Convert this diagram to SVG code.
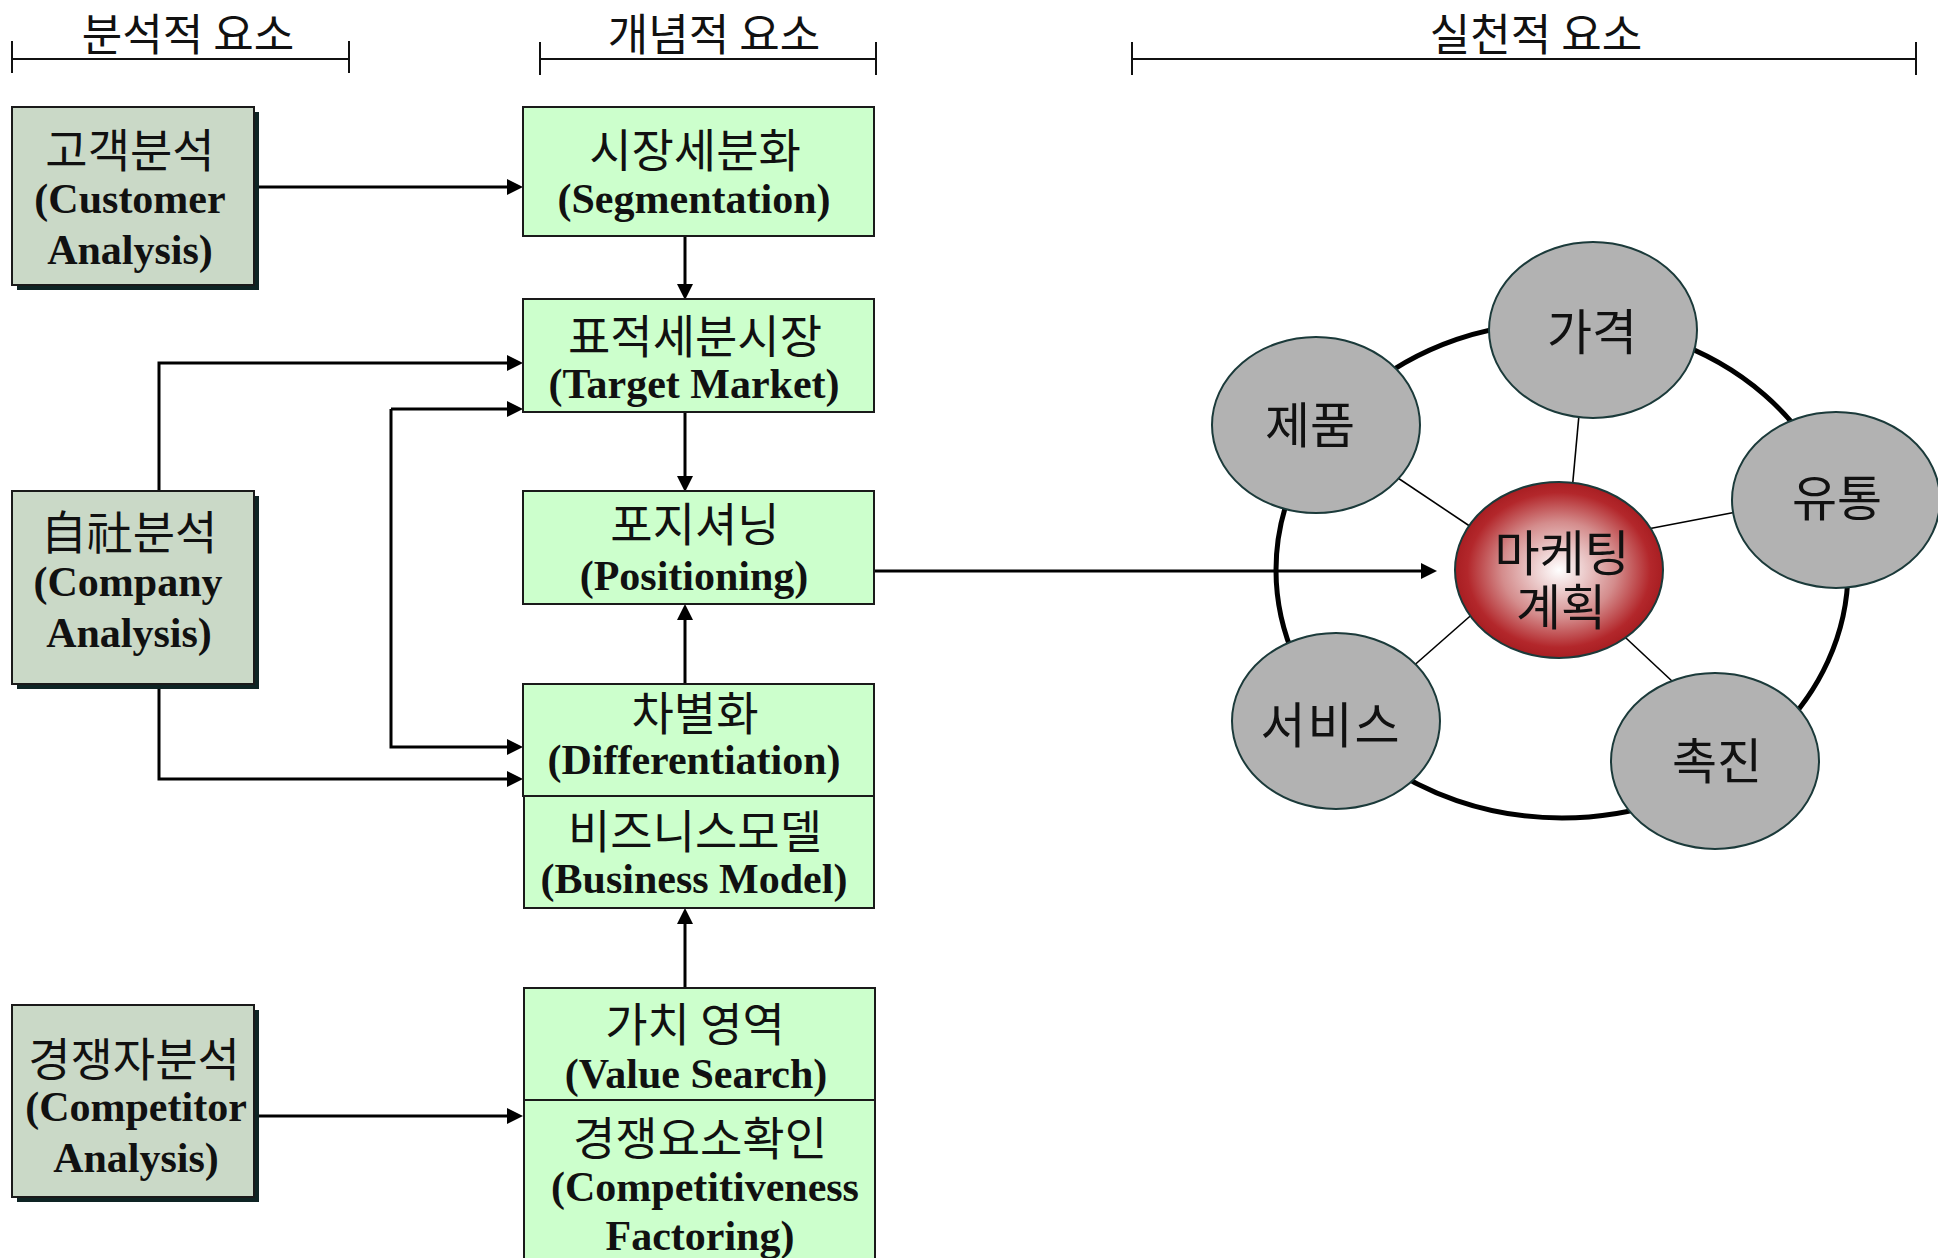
<svg xmlns="http://www.w3.org/2000/svg" width="1938" height="1258" viewBox="0 0 1938 1258">
  <style>
    .ko { font-family: "Noto Sans CJK KR", "Noto Sans", sans-serif; font-size: 46px; fill: #111; font-weight: 400; }
    .en { font-family: "Liberation Serif", "Times New Roman", serif; font-size: 42px; font-weight: bold; fill: #111; }
    .lbl { text-anchor: middle; }
    .hd { font-family: "Noto Sans CJK KR", "Noto Sans", sans-serif; font-size: 44px; fill: #111; text-anchor: middle; }
    .cir { font-family: "Noto Sans CJK KR", "Noto Sans", sans-serif; font-size: 49px; fill: #111; text-anchor: middle; font-weight: 400; }
    .hdr line { stroke: #111; stroke-width: 2; }
    .abox { fill: #CAD9C7; stroke: #1a1a1a; stroke-width: 2; }
    .shadow { fill: #0E2424; }
    .cbox { fill: #CCFFCC; stroke: #1a1a1a; stroke-width: 2; }
    .conn { fill: none; stroke: #000; stroke-width: 3; marker-end: url(#arrow); }
    .ring { fill: none; stroke: #000; stroke-width: 5; }
    .spoke { stroke: #000; stroke-width: 1.6; }
    .mix { fill: #B2B2B2; stroke: #1B3A3A; stroke-width: 2; }
    .plan { fill: url(#planGrad); stroke: #1B3A3A; stroke-width: 2; }
  </style>
  <defs>
    <marker id="arrow" viewBox="0 0 16 16" refX="0" refY="8" markerWidth="16" markerHeight="16" markerUnits="userSpaceOnUse" orient="auto">
      <path d="M0,0 L16,8 L0,16 z" fill="#000"/>
    </marker>
    <radialGradient id="planGrad" cx="50%" cy="50%" r="50%">
      <stop offset="0" stop-color="#FFFFFF"/>
      <stop offset="0.55" stop-color="#D48C8C"/>
      <stop offset="0.88" stop-color="#B3272B"/>
      <stop offset="1" stop-color="#A81E22"/>
    </radialGradient>
  </defs>

  <rect width="1938" height="1258" fill="#fff"/>

  <!-- column headers -->
  <g id="hdr-analysis" class="hdr">
    <line x1="12" y1="59" x2="349" y2="59"/>
    <line x1="12" y1="41" x2="12" y2="73"/>
    <line x1="349" y1="41" x2="349" y2="73"/>
    <text class="hd" x="188" y="51">분석적 요소</text>
  </g>
  <g id="hdr-concept" class="hdr">
    <line x1="540" y1="59" x2="876" y2="59"/>
    <line x1="540" y1="42" x2="540" y2="75"/>
    <line x1="876" y1="42" x2="876" y2="75"/>
    <text class="hd" x="714" y="51">개념적 요소</text>
  </g>
  <g id="hdr-practice" class="hdr">
    <line x1="1132" y1="59" x2="1916" y2="59"/>
    <line x1="1132" y1="42" x2="1132" y2="75"/>
    <line x1="1916" y1="42" x2="1916" y2="75"/>
    <text class="hd" x="1536" y="51">실천적 요소</text>
  </g>

  <!-- connectors -->
  <g id="connectors">
    <path class="conn" d="M254,187 H507"/>
    <path class="conn" d="M685,236 V284"/>
    <path class="conn" d="M159,491 V363 H507"/>
    <path class="conn" d="M391,409 H507"/>
    <path class="conn" d="M391,409 V747 H507"/>
    <path class="conn" d="M159,684 V779 H507"/>
    <path class="conn" d="M685,412 V476"/>
    <path class="conn" d="M685,684 V620"/>
    <path class="conn" d="M685,988 V924"/>
    <path class="conn" d="M254,1116 H507"/>
    <path class="conn" d="M874,571 H1421"/>
  </g>

  <!-- analysis boxes -->
  <g id="customer">
    <rect class="shadow" x="17" y="112" width="242" height="178"/>
    <rect class="abox" x="12" y="107" width="242" height="178"/>
    <text class="lbl"><tspan class="ko" x="130" y="167">고객분석</tspan><tspan class="en" x="130" y="213">(Customer</tspan><tspan class="en" x="130" y="264">Analysis)</tspan></text>
  </g>
  <g id="company">
    <rect class="shadow" x="17" y="496" width="242" height="193"/>
    <rect class="abox" x="12" y="491" width="242" height="193"/>
    <text class="lbl"><tspan class="ko" x="129" y="549">自社분석</tspan><tspan class="en" x="128" y="596">(Company</tspan><tspan class="en" x="129" y="647">Analysis)</tspan></text>
  </g>
  <g id="competitor">
    <rect class="shadow" x="17" y="1010" width="242" height="192"/>
    <rect class="abox" x="12" y="1005" width="242" height="192"/>
    <text class="lbl"><tspan class="ko" x="134" y="1076">경쟁자분석</tspan><tspan class="en" x="136" y="1121">(Competitor</tspan><tspan class="en" x="136" y="1172">Analysis)</tspan></text>
  </g>

  <!-- concept boxes -->
  <g id="segmentation">
    <rect class="cbox" x="523" y="107" width="351" height="129"/>
    <text class="lbl"><tspan class="ko" x="695" y="167">시장세분화</tspan><tspan class="en" x="694" y="213">(Segmentation)</tspan></text>
  </g>
  <g id="target-market">
    <rect class="cbox" x="523" y="299" width="351" height="113"/>
    <text class="lbl"><tspan class="ko" x="695" y="353">표적세분시장</tspan><tspan class="en" x="694" y="398">(Target Market)</tspan></text>
  </g>
  <g id="positioning">
    <rect class="cbox" x="523" y="491" width="351" height="113"/>
    <text class="lbl"><tspan class="ko" x="695" y="541">포지셔닝</tspan><tspan class="en" x="694" y="590">(Positioning)</tspan></text>
  </g>
  <g id="differentiation">
    <rect class="cbox" x="523" y="684" width="351" height="112"/>
    <text class="lbl"><tspan class="ko" x="695" y="730">차별화</tspan><tspan class="en" x="694" y="774">(Differentiation)</tspan></text>
  </g>
  <g id="business-model">
    <rect class="cbox" x="524" y="796" width="350" height="112"/>
    <text class="lbl"><tspan class="ko" x="695" y="848">비즈니스모델</tspan><tspan class="en" x="694" y="893">(Business Model)</tspan></text>
  </g>
  <g id="value-search">
    <rect class="cbox" x="524" y="988" width="351" height="112"/>
    <text class="lbl"><tspan class="ko" x="695" y="1041">가치 영역</tspan><tspan class="en" x="696" y="1088">(Value Search)</tspan></text>
  </g>
  <g id="competitiveness">
    <rect class="cbox" x="524" y="1100" width="351" height="170"/>
    <text class="lbl"><tspan class="ko" x="700" y="1155">경쟁요소확인</tspan><tspan class="en" x="705" y="1201">(Competitiveness</tspan><tspan class="en" x="700" y="1250">Factoring)</tspan></text>
  </g>

  <!-- marketing mix wheel -->
  <g id="wheel">
    <ellipse class="ring" cx="1562" cy="570" rx="286" ry="248"/>
    <line class="spoke" x1="1571" y1="502" x2="1581" y2="393"/>
    <line class="spoke" x1="1486" y1="537" x2="1383" y2="468"/>
    <line class="spoke" x1="1632" y1="532" x2="1752" y2="509"/>
    <line class="spoke" x1="1485" y1="603" x2="1402" y2="676"/>
    <line class="spoke" x1="1612" y1="625" x2="1688" y2="696"/>
  </g>
  <g id="price">
    <ellipse class="mix" cx="1593" cy="330" rx="104" ry="88"/>
    <text class="cir" x="1592" y="350">가격</text>
  </g>
  <g id="product">
    <ellipse class="mix" cx="1316" cy="425" rx="104" ry="88"/>
    <text class="cir" x="1310" y="443">제품</text>
  </g>
  <g id="place">
    <ellipse class="mix" cx="1836" cy="500" rx="104" ry="88"/>
    <text class="cir" x="1837" y="516">유통</text>
  </g>
  <g id="service">
    <ellipse class="mix" cx="1336" cy="721" rx="104" ry="88"/>
    <text class="cir" x="1331" y="743" letter-spacing="2">서비스</text>
  </g>
  <g id="promotion">
    <ellipse class="mix" cx="1715" cy="761" rx="104" ry="88"/>
    <text class="cir" x="1717" y="779">촉진</text>
  </g>
  <g id="marketing-plan">
    <ellipse class="plan" cx="1559" cy="570" rx="104" ry="88"/>
    <text class="cir"><tspan x="1562" y="571">마케팅</tspan><tspan x="1561" y="625">계획</tspan></text>
  </g>
</svg>
